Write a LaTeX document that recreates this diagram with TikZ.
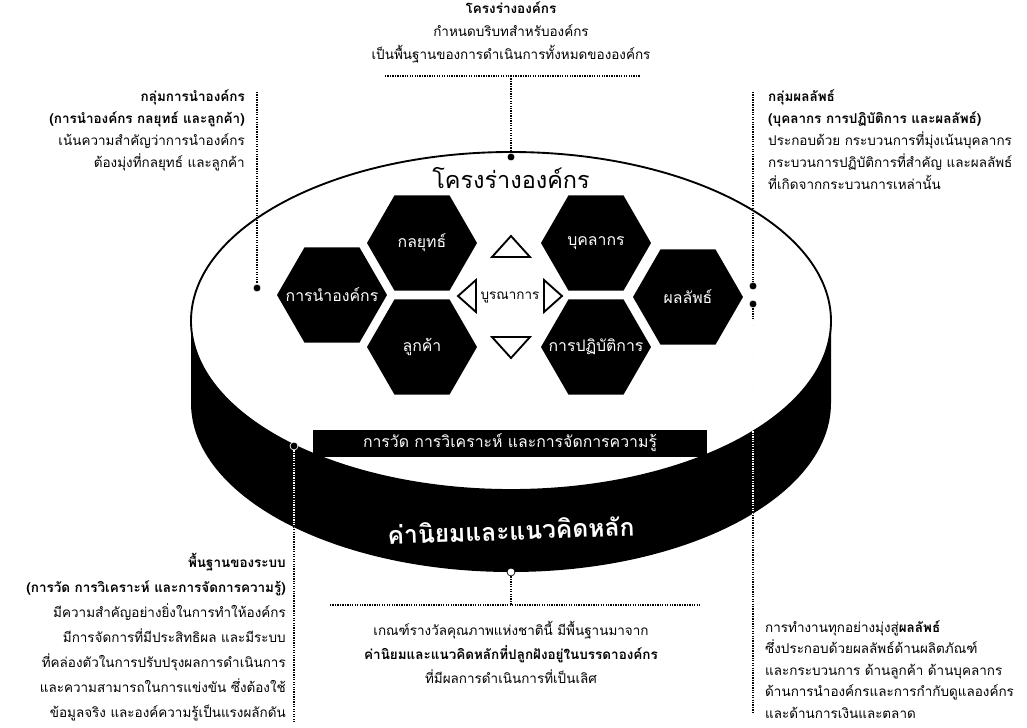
\documentclass[tikz,border=0pt]{standalone}
\usepackage{fontspec}
\newfontfamily\thaifont[Script=Thai]{Loma}
\usetikzlibrary{positioning}
\usetikzlibrary{shapes.geometric}

\tikzset{
  hexcell/.style={regular polygon,regular polygon sides=6,minimum size=3.3cm,inner sep=0pt,fill=black},
  hexlabel/.style={text=white,inner sep=0pt,font=\thaifont\fontsize{13.5}{15}\selectfont},
  dotmark/.style={circle,fill=black,draw=white,line width=0.6pt,inner sep=2.4pt},
  leader/.style={draw,densely dotted,line width=1.1pt},
  note/.style={inner sep=0pt,font=\thaifont\fontsize{11.5}{20.5}\selectfont},
  tri/.style={draw=black,fill=white,line width=1.6pt,line join=miter}
}

\begin{document}
\begin{tikzpicture}[x=0.03cm,y=-0.03cm]

  \fill [white] (0,0) rectangle (1027,728);
  \useasboundingbox (0,0) rectangle (1027,728);

  \fill [black] (191,321) -- (191,403) arc [start angle=180,end angle=0,x radius=320,y radius=169] -- (831,321) -- cycle;
  \filldraw [fill=white,draw=black,line width=1.6pt] (511,321) ellipse [x radius=320,y radius=169];

  \node [hexcell,label={[hexlabel]center:กลยุทธ์}] (hex_strategy) at (422,243) {};
  \node [hexcell,label={[hexlabel]center:บุคลากร}] (hex_workforce) at (596,243) {};
  \node [hexcell,label={[hexlabel]center:การนำองค์กร}] (hex_leadership) at (332,295) {};
  \node [hexcell,label={[hexlabel]center:ผลลัพธ์}] (hex_results) at (688,297) {};
  \node [hexcell,label={[hexlabel]center:ลูกค้า}] (hex_customers) at (422,347) {};
  \node [hexcell,label={[hexlabel]center:การปฏิบัติการ}] (hex_operations) at (596,347) {};

  \draw [tri] (511,236) -- (530,257) -- (492,257) -- cycle;
  \draw [tri] (511,358) -- (530,337) -- (492,337) -- cycle;
  \draw [tri] (458,296) -- (476,280) -- (476,312) -- cycle;
  \draw [tri] (562,296) -- (544,280) -- (544,312) -- cycle;
  \node [font=\thaifont\fontsize{11.5}{13}\selectfont,inner sep=0pt] (integration) at (510,297) {บูรณาการ};

  \node [font=\thaifont\fontsize{20}{24}\selectfont] (frame_title) at (511,178) {โครงร่างองค์กร};

  \node [fill=black,text=white,minimum width=11.82cm,minimum height=0.81cm,inner sep=0pt,font=\thaifont\fontsize{13.5}{15}\selectfont] (measure_band) at (510,443) {การวัด การวิเคราะห์ และการจัดการความรู้};
  \node [text=white,rotate=2,font=\thaifont\bfseries\fontsize{21}{24}\selectfont] (values_band) at (511,530) {ค่านิยมและแนวคิดหลัก};

  \node [note,anchor=north,align=center,font=\thaifont\fontsize{11.5}{20}\selectfont] (frame_note) at (511,1) {{\bfseries โครงร่างองค์กร}\\ กำหนดบริบทสำหรับองค์กร\\ เป็นพื้นฐานของการดำเนินการทั้งหมดขององค์กร};
  \node [note,anchor=north east,align=right,font=\thaifont\fontsize{11.5}{18.8}\selectfont] (lead_note) at (245,89) {{\bfseries กลุ่มการนำองค์กร}\\ {\bfseries (การนำองค์กร กลยุทธ์ และลูกค้า)}\\ เน้นความสำคัญว่าการนำองค์กร\\ ต้องมุ่งที่กลยุทธ์ และลูกค้า};
  \node [note,anchor=north west,align=left,font=\thaifont\fontsize{11.5}{18.8}\selectfont] (result_note) at (768,89) {{\bfseries กลุ่มผลลัพธ์}\\ {\bfseries (บุคลากร การปฏิบัติการ และผลลัพธ์)}\\ ประกอบด้วย กระบวนการที่มุ่งเน้นบุคลากร\\ กระบวนการปฏิบัติการที่สำคัญ และผลลัพธ์\\ ที่เกิดจากกระบวนการเหล่านั้น};
  \node [note,anchor=north east,align=right,font=\thaifont\fontsize{11.5}{21.3}\selectfont] (base_note) at (286,553) {{\bfseries พื้นฐานของระบบ}\\ {\bfseries (การวัด การวิเคราะห์ และการจัดการความรู้)}\\ มีความสำคัญอย่างยิ่งในการทำให้องค์กร\\ มีการจัดการที่มีประสิทธิผล และมีระบบ\\ ที่คล่องตัวในการปรับปรุงผลการดำเนินการ\\ และความสามารถในการแข่งขัน ซึ่งต้องใช้\\ ข้อมูลจริง และองค์ความรู้เป็นแรงผลักดัน};
  \node [note,anchor=north,align=center] (values_note) at (511,621) {เกณฑ์รางวัลคุณภาพแห่งชาตินี้ มีพื้นฐานมาจาก\\ {\bfseries ค่านิยมและแนวคิดหลักที่ปลูกฝังอยู่ในบรรดาองค์กร}\\ ที่มีผลการดำเนินการที่เป็นเลิศ};
  \node [note,anchor=north west,align=left,font=\thaifont\fontsize{11.5}{18.4}\selectfont] (outcome_note) at (765,620) {การทำงานทุกอย่างมุ่งสู่{\bfseries ผลลัพธ์}\\ ซึ่งประกอบด้วยผลลัพธ์ด้านผลิตภัณฑ์\\ และกระบวนการ ด้านลูกค้า ด้านบุคลากร\\ ด้านการนำองค์กรและการกำกับดูแลองค์กร\\ และด้านการเงินและตลาด};

  \coordinate (frame_rule_l) at (385,76);
  \coordinate (frame_rule_r) at (640,76);
  \coordinate (frame_rule_m) at (511,76);
  \coordinate (lead_top) at (257,92);
  \coordinate (result_top) at (753,92);
  \coordinate (outcome_end) at (753,712);
  \coordinate (base_end) at (294,722);
  \coordinate (values_rule_l) at (330,605);
  \coordinate (values_rule_r) at (700,605);
  \coordinate (values_rule_m) at (511,605);

  \node [dotmark] (d_frame) at (511,157) {};
  \node [dotmark] (d_lead) at (257,288) {};
  \node [dotmark] (d_result) at (753,286) {};
  \node [dotmark] (d_outcome) at (753,304) {};
  \node [dotmark] (d_base) at (294,446) {};
  \node [dotmark,fill=white,draw=black] (d_values) at (511,572) {};

  \path [leader]
    (frame_rule_l) edge (frame_rule_r)
    (frame_rule_m) edge (d_frame)
    (lead_top) edge (d_lead)
    (result_top) edge (d_result)
    (d_outcome) edge (outcome_end)
    (d_base) edge (base_end)
    (d_values) edge (values_rule_m)
    (values_rule_l) edge (values_rule_r);

  \begin{scope}
    \clip (191,321) -- (191,403) arc [start angle=180,end angle=0,x radius=320,y radius=169] -- (831,321) -- cycle;
    \path [leader,white]
      (d_outcome) edge (outcome_end)
      (d_base) edge (base_end)
      (d_values) edge (values_rule_m);
  \end{scope}

\end{tikzpicture}
\end{document}
